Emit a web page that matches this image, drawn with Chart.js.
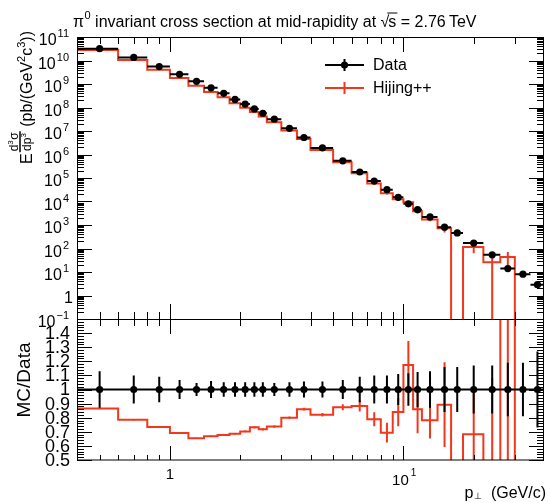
<!DOCTYPE html>
<html><head><meta charset="utf-8">
<script src="https://cdn.jsdelivr.net/npm/chart.js@4/dist/chart.umd.min.js"></script>
<style>
html,body{margin:0;padding:0;background:#fff;}
#wrap{position:relative;width:548px;height:503px;background:#fff;}
canvas{position:absolute;left:0;top:0;}
</style></head><body>
<div id="wrap"><canvas id="cTop" width="548" height="503"></canvas><canvas id="cBot" width="548" height="503"></canvas></div>
<script>
// ---------------- data ----------------
const binEdges = [0.4,0.6,0.8,1.0,1.2,1.4,1.6,1.8,2.0,2.2,2.4,2.6,3.0,3.5,4,5,6,7,8,9,10,11,12,14,16,18,22,26,30,35,40];
const dataValues = [3.2e10,1.35e10,5.5e9,2.6e9,1.3e9,6.9e8,4.0e8,2.2e8,1.4e8,8.7e7,5.7e7,3.2e7,1.3e7,5.3e6,1.9e6,5.4e5,1.8e5,7.4e4,3.2e4,1.5e4,8.0e3,4.5e3,2.2e3,810,460,170,54,14,8.1,2.9];
const dataRelErr = [0.13,0.10,0.09,0.068,0.046,0.06,0.052,0.052,0.052,0.052,0.052,0.046,0.052,0.057,0.057,0.068,0.09,0.10,0.10,0.11,0.115,0.125,0.13,0.16,0.16,0.17,0.17,0.19,0.19,0.27];
const hijingValues = [2.77e10,1.06e10,4.04e9,1.80e9,8.5e8,4.61e8,2.71e8,1.51e8,9.84e7,6.37e7,4.09e7,2.36e7,1.04e7,4.56e6,1.56e6,4.72e5,1.59e5,5.84e4,2.22e4,1.26e4,9.39e3,3.87e3,1.72e3,723,0,116,26,43,0,0];
const hijingRelErr = [0.006,0.006,0.006,0.006,0.006,0.006,0.006,0.006,0.008,0.01,0.01,0.01,0.01,0.012,0.015,0.025,0.045,0.063,0.1,0.12,0.145,0.2,0.17,0.33,0,0.46,1.3,0.67,0,0];
const ratioMcErr = [0.005,0.005,0.005,0.005,0.005,0.005,0.005,0.005,0.006,0.008,0.008,0.008,0.008,0.01,0.012,0.022,0.04,0.05,0.07,0.1,0.17,0.17,0.13,0.3,0,0.32,0.6,2.7,0,0];

// axis ticks / labels
const xMajorTicks = [1, 10];
const xMinorTicks = [0.5,0.6,0.7,0.8,0.9,2,3,4,5,6,7,8,9,20,30];
const yTopExponents = [-1,0,1,2,3,4,5,6,7,8,9,10,11];
const ratioTickLabels = ['0.5','0.6','0.7','0.8','0.9','1','1.1','1.2','1.3','1.4'];
const seriesNames = ['Data', 'Hijing++'];
const titleText = ' invariant cross section at mid-rapidity at ';

const RED = '#f2381c';
const FONT = '"Liberation Sans", Arial, Helvetica, sans-serif';
const F = s => s + 'px ' + FONT;

const nb = dataValues.length;
const centers = [];
for (let i = 0; i < nb; i++) centers.push((binEdges[i] + binEdges[i+1]) / 2);
const LOG_FLOOR = 1e-3; // used only to draw empty bins below the visible log range

function stepPoints(vals, floor) {
  const pts = [];
  for (let i = 0; i < vals.length; i++) {
    const v = (floor !== undefined && !(vals[i] > 0)) ? floor : vals[i];
    pts.push({x: binEdges[i], y: v});
    pts.push({x: binEdges[i+1], y: v});
  }
  return pts;
}
function vErr(vals, errs, floor) {
  const pts = [];
  for (let i = 0; i < vals.length; i++) {
    if (!(errs[i] > 0)) continue;
    let lo = vals[i] - errs[i];
    if (floor !== undefined && lo <= 0) lo = floor;
    pts.push({x: centers[i], y: lo}, {x: centers[i], y: vals[i] + errs[i]}, {x: centers[i], y: null});
  }
  return pts;
}
function hErr(vals) {
  const pts = [];
  for (let i = 0; i < vals.length; i++) {
    pts.push({x: binEdges[i], y: vals[i]}, {x: binEdges[i+1], y: vals[i]}, {x: binEdges[i+1], y: null});
  }
  return pts;
}
const lineDs = (data, color, order) => ({type:'line', data, borderColor: color, borderWidth: 2, pointRadius: 0, fill: false, tension: 0, spanGaps: false, order});

// ---------------- drawing helpers ----------------
function drawPow(ctx, exp, xRight, yc) {
  ctx.fillStyle = '#000';
  ctx.textBaseline = 'middle';
  if (exp === 0) {
    ctx.font = F(16); ctx.textAlign = 'right';
    ctx.fillText('1', xRight + 4, yc + 3);
    return;
  }
  const sup = exp < 0 ? '\u2212' + (-exp) : String(exp);
  ctx.font = F(11); const ws = ctx.measureText(sup).width;
  ctx.font = F(16); const wb = ctx.measureText('10').width;
  ctx.textAlign = 'left';
  const x0 = xRight - ws - wb - 1;
  ctx.fillText('10', x0, yc + 4);
  ctx.font = F(11);
  ctx.fillText(sup, x0 + wb + 1, yc - 3);
}
function ticksX(ctx, scale, yEdge, dir, lMin, lMaj) {
  ctx.beginPath();
  xMinorTicks.forEach(v => { const p = Math.round(scale.getPixelForValue(v)) + 0.5; ctx.moveTo(p, yEdge); ctx.lineTo(p, yEdge + dir*lMin); });
  xMajorTicks.forEach(v => { const p = Math.round(scale.getPixelForValue(v)) + 0.5; ctx.moveTo(p, yEdge); ctx.lineTo(p, yEdge + dir*lMaj); });
  ctx.stroke();
}

const topDecor = {
  id: 'topDecor',
  afterDraw(chart) {
    const {ctx, chartArea: a, scales: {x, y}} = chart;
    ctx.save();
    ctx.strokeStyle = '#000'; ctx.lineWidth = 1;
    ctx.strokeRect(a.left + 0.5, a.top + 0.5, a.right - a.left - 1, a.bottom - a.top);
    ticksX(ctx, x, a.bottom, -1, 7, 15);
    ticksX(ctx, x, a.top, 1, 7, 15);
    ctx.beginPath();
    for (let d = yTopExponents[0]; d <= yTopExponents[yTopExponents.length-1]; d++) {
      for (let k = 1; k <= 9; k++) {
        const v = k * Math.pow(10, d);
        if (v > 1e11 * 1.0001) break;
        const p = Math.round(y.getPixelForValue(v)) + 0.5;
        const len = k === 1 ? 15 : 7;
        ctx.moveTo(a.left, p); ctx.lineTo(a.left + len, p);
        ctx.moveTo(a.right, p); ctx.lineTo(a.right - len, p);
      }
    }
    ctx.stroke();
    yTopExponents.forEach(e => drawPow(ctx, e, 69, y.getPixelForValue(Math.pow(10, e))));

    // title
    ctx.fillStyle = '#000'; ctx.textAlign = 'left'; ctx.textBaseline = 'alphabetic';
    let tx = 73; const tb = 26.5;
    ctx.font = F(16); ctx.fillText('\u03c0', tx, tb); tx += ctx.measureText('\u03c0').width + 0.5;
    ctx.font = F(11); ctx.fillText('0', tx, tb - 8); tx += ctx.measureText('0').width;
    ctx.font = F(16); ctx.fillText(titleText, tx, tb); tx += ctx.measureText(titleText).width;
    ctx.fillText('\u221a', tx, tb); const wr = ctx.measureText('\u221a').width; 
    const sx = tx + wr - 1; ctx.fillText('s', sx, tb); const wsx = ctx.measureText('s').width;
    ctx.beginPath(); ctx.moveTo(sx - 1, tb - 13.5); ctx.lineTo(sx + wsx + 1, tb - 13.5); ctx.stroke();
    tx = sx + wsx;
    ctx.fillText(' = 2.76\u2009TeV', tx, tb);

    // y title (rotated)
    ctx.save();
    ctx.font = F(16);
    const wE = ctx.measureText('E').width;
    ctx.font = F(12); const wNum = ctx.measureText('d').width + ctx.measureText('\u03c3').width + 5;
    const wDen = ctx.measureText('dp').width + 5;
    const wFrac = Math.max(wNum, wDen) + 2;
    ctx.font = F(16);
    const s1 = ' (pb/(GeV', s2 = 'c', s3 = '))';
    const w1 = ctx.measureText(s1).width, w2 = ctx.measureText(s2).width, w3 = ctx.measureText(s3).width;
    ctx.font = F(11); const wsup = ctx.measureText('2').width;
    const total = wE + 1 + wFrac + w1 + wsup + w2 + wsup + w3;
    ctx.translate(32, 31 + total);
    ctx.rotate(-Math.PI / 2);
    let u = 0;
    ctx.font = F(16); ctx.fillText('E', u, 0); u += wE + 1;
    // fraction
    ctx.beginPath(); ctx.lineWidth = 1.5; ctx.moveTo(u, -12); ctx.lineTo(u + wFrac, -12); ctx.stroke();
    let nu = u + (wFrac - wNum) / 2;
    ctx.font = F(12); ctx.fillText('d', nu, -14); nu += ctx.measureText('d').width;
    ctx.font = F(8); ctx.fillText('3', nu, -19); nu += 5;
    ctx.font = F(12); ctx.fillText('\u03c3', nu, -14);
    let du = u + (wFrac - wDen) / 2;
    ctx.font = F(12); ctx.fillText('dp', du, -1); du += ctx.measureText('dp').width;
    ctx.font = F(8); ctx.fillText('3', du, -6);
    u += wFrac;
    ctx.font = F(16); ctx.fillText(s1, u, 0); u += w1;
    ctx.font = F(11); ctx.fillText('2', u, -7); u += wsup;
    ctx.font = F(16); ctx.fillText(s2, u, 0); u += w2;
    ctx.font = F(11); ctx.fillText('3', u, -7); u += wsup;
    ctx.font = F(16); ctx.fillText(s3, u, 0);
    ctx.restore();

    // legend
    const lx0 = 325, lx1 = 364, lc = 344.5;
    const rows = [{y: 65, c: '#000', dot: true}, {y: 88, c: RED, dot: false}];
    rows.forEach((r, i) => {
      ctx.strokeStyle = r.c; ctx.lineWidth = 2;
      ctx.beginPath(); ctx.moveTo(lx0, r.y); ctx.lineTo(lx1, r.y); ctx.moveTo(lc, r.y - 6); ctx.lineTo(lc, r.y + 6); ctx.stroke();
      if (r.dot) { ctx.fillStyle = '#000'; ctx.beginPath(); ctx.arc(lc, r.y, 3.6, 0, Math.PI*2); ctx.fill(); }
      ctx.fillStyle = '#000'; ctx.font = F(16); ctx.textAlign = 'left'; ctx.textBaseline = 'middle';
      ctx.fillText(seriesNames[i], 373, r.y + 1);
    });
    ctx.restore();
  }
};

const botDecor = {
  id: 'botDecor',
  afterDraw(chart) {
    const {ctx, chartArea: a, scales: {x, y}} = chart;
    ctx.save();
    ctx.strokeStyle = '#000'; ctx.lineWidth = 1;
    ctx.strokeRect(a.left + 0.5, a.top + 0.5, a.right - a.left - 1, a.bottom - a.top - 0.5);
    ticksX(ctx, x, a.bottom, -1, 5, 14);
    ticksX(ctx, x, a.top, 1, 7, 15);
    ctx.beginPath();
    for (let i = 0; i <= 50; i++) {
      const v = 0.5 + i * 0.02;
      const p = Math.round(y.getPixelForValue(v)) + 0.5;
      const len = (i % 5 === 0) ? 15 : 7;
      ctx.moveTo(a.left, p); ctx.lineTo(a.left + len, p);
      ctx.moveTo(a.right, p); ctx.lineTo(a.right - len, p);
    }
    ctx.stroke();
    ctx.fillStyle = '#000'; ctx.font = F(18); ctx.textAlign = 'right'; ctx.textBaseline = 'middle';
    ratioTickLabels.forEach(t => ctx.fillText(t, 70, y.getPixelForValue(parseFloat(t)) + 1));
    // x labels
    ctx.font = F(15); ctx.textAlign = 'center';
    ctx.fillText('1', x.getPixelForValue(1), 475);
    ctx.textAlign = 'left';
    const p10 = x.getPixelForValue(10);
    const w10 = ctx.measureText('10').width;
    ctx.fillText('10', p10 - w10/2 - 3, 481);
    ctx.font = F(10); ctx.fillText('1', p10 + w10/2 - 1, 473);
    // x title
    ctx.textBaseline = 'alphabetic'; ctx.textAlign = 'right'; ctx.font = F(16);
    ctx.fillText('(GeV/c)', 546, 498);
    const wg = ctx.measureText('(GeV/c)').width;
    ctx.font = F(9); ctx.fillText('\u22a5', 546 - wg - 9, 499);
    const wp = ctx.measureText('\u22a5').width;
    ctx.font = F(16); ctx.fillText('p', 546 - wg - 9 - wp - 0.5, 498);
    // y title
    ctx.save();
    ctx.translate(30, 380); ctx.rotate(-Math.PI/2);
    ctx.font = F(19); ctx.textAlign = 'center'; ctx.textBaseline = 'alphabetic';
    ctx.fillText('MC/Data', 0, 0);
    ctx.restore();
    ctx.restore();
  }
};

// ---------------- charts ----------------
const dataErrAbs = dataValues.map((v, i) => v * dataRelErr[i]);
const hijErrAbs = hijingValues.map((v, i) => v * hijingRelErr[i]);
const ratioVals = hijingValues.map((v, i) => v / dataValues[i]);
const ones = dataValues.map(() => 1);

const common = (padding) => ({
  responsive: false, animation: false, devicePixelRatio: 1, events: [],
  layout: {padding},
  plugins: {legend: {display: false}, tooltip: {enabled: false}, title: {display: false}},
});

new Chart(document.getElementById('cTop'), {
  type: 'line',
  data: {datasets: [
    {type: 'scatter', data: centers.map((c, i) => ({x: c, y: dataValues[i]})), pointRadius: 3.6, pointBackgroundColor: '#000', pointBorderWidth: 0, showLine: false, order: 0},
    lineDs(hErr(dataValues), '#000', 1),
    lineDs(vErr(dataValues, dataErrAbs, LOG_FLOOR), '#000', 1),
    lineDs(vErr(hijingValues, hijErrAbs, LOG_FLOOR), RED, 2),
    lineDs(stepPoints(hijingValues, LOG_FLOOR), RED, 3),
  ]},
  options: Object.assign(common({left: 77, right: 1, top: 37, bottom: 184}), {
    scales: {
      x: {type: 'logarithmic', min: 0.4, max: 40, display: false},
      y: {type: 'logarithmic', min: 0.1, max: 1e11, display: false},
    }
  }),
  plugins: [topDecor]
});

new Chart(document.getElementById('cBot'), {
  type: 'line',
  data: {datasets: [
    {type: 'scatter', data: centers.map((c, i) => ({x: c, y: ones[i]})), pointRadius: 3.6, pointBackgroundColor: '#000', pointBorderWidth: 0, showLine: false, order: 0},
    lineDs(hErr(ones), '#000', 1),
    lineDs(vErr(ones, dataRelErr), '#000', 1),
    lineDs(vErr(ratioVals, ratioMcErr), RED, 2),
    lineDs(stepPoints(ratioVals), RED, 3),
  ]},
  options: Object.assign(common({left: 77, right: 1, top: 319, bottom: 43}), {
    scales: {
      x: {type: 'logarithmic', min: 0.4, max: 40, display: false},
      y: {type: 'linear', min: 0.5, max: 1.5, display: false},
    }
  }),
  plugins: [botDecor]
});
</script>
</body></html>
